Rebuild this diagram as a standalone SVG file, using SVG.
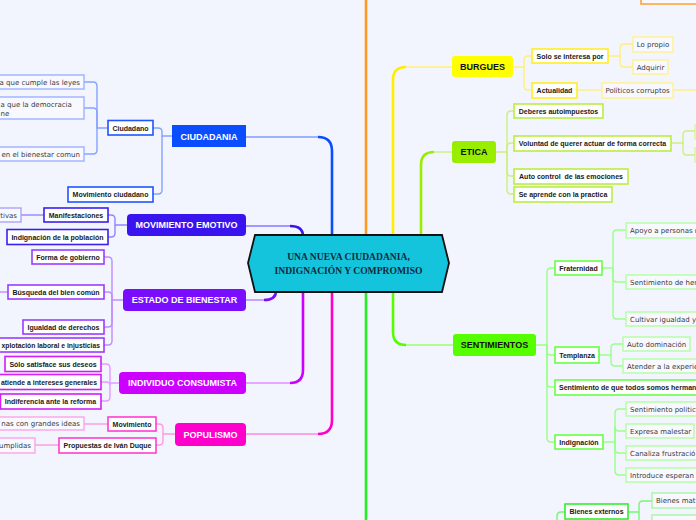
<svg xmlns="http://www.w3.org/2000/svg" width="696" height="520" viewBox="0 0 696 520">
<style>
.m{font:bold 9px "Liberation Sans",Arial,sans-serif;text-anchor:middle}
.w{fill:#fff}
.k{fill:#111}
.b{font:bold 7px "Liberation Sans",Arial,sans-serif;fill:#1a1a1a;text-anchor:middle}
.r{font:7px "DejaVu Sans",Verdana,sans-serif;fill:#3a3a3a}
.b.e,.r.e{text-anchor:end}
.b.s{text-anchor:start}
.r.mid{text-anchor:middle}
.n2{fill:#fff;stroke-width:1.6}
.n3{fill:#f8f9ff;stroke-width:1.4}
.c{fill:none;stroke-width:1.4}
.t{fill:none;stroke-width:2.6}
.cen{font:bold 9.6px "Liberation Serif","Times New Roman",serif;fill:#13293d;text-anchor:middle}
</style>
<rect width="696" height="520" fill="#f2f5fd"/>
<g id="connectors">
<path class="c" stroke="#7f9cff" d="M246,137 H318"/>
<path class="t" stroke="#0a4dff" d="M318,137 Q332,137 332,151 V236"/>
<path class="c" stroke="#8877ff" d="M246,226 H290"/>
<path class="t" stroke="#3a14ee" d="M290,226 Q303,226 303,236"/>
<path class="c" stroke="#b080ff" d="M246,300 H264"/>
<path class="t" stroke="#7a0cff" d="M264,300 Q276,300 276,291"/>
<path class="c" stroke="#e08cff" d="M246,383 H290"/>
<path class="t" stroke="#cc00ff" d="M290,383 Q303,383 303,370 V291"/>
<path class="c" stroke="#ff88dd" d="M246,434 H318"/>
<path class="t" stroke="#ff00cc" d="M318,434 Q332,434 332,420 V291"/>
<path class="t" stroke="#ff9922" d="M366,236 V0"/>
<path class="c" stroke="#fff07a" d="M452,67 H406"/>
<path class="t" stroke="#ffee00" d="M406,67 Q393,67 393,80 V236"/>
<path class="c" stroke="#ccf080" d="M452,152 H434"/>
<path class="t" stroke="#99ee00" d="M434,152 Q421,152 421,165 V236"/>
<path class="c" stroke="#99ff66" d="M453,345 H406"/>
<path class="t" stroke="#55ff00" d="M406,345 Q393,345 393,332 V291"/>
<path class="t" stroke="#22ee22" d="M366,291 V520"/>
<g stroke="#86a2ff" class="c">
<path d="M172,136 H162 V132 Q162,128 158,128 H153"/>
<path d="M162,136 V190 Q162,194 158,194 H153"/>
<path d="M108,128 H97 V86 Q97,82 93,82 H84"/>
<path d="M97,128 V112 Q97,108 93,108 H84"/>
<path d="M97,128 V150 Q97,154 93,154 H84"/>
</g>
<g stroke="#9484ff" class="c">
<path d="M127,225 H115 V219 Q115,215 111,215 H108"/>
<path d="M115,225 V233 Q115,237 111,237 H108"/>
<path d="M44,215 H21"/>
</g>
<g stroke="#c08cff" class="c">
<path d="M123,300 H112 V261 Q112,257 108,257 H104"/>
<path d="M112,300 V296 Q112,292 108,292 H104"/>
<path d="M112,300 V323 Q112,327 108,327 H104"/>
<path d="M112,300 V341 Q112,345 108,345 H104"/>
<path d="M8,292 H0"/>
</g>
<g stroke="#e39cff" class="c">
<path d="M119,383 H110 V368 Q110,364 106,364 H101"/>
<path d="M110,383 V385 Q110,382 106,382 H101"/>
<path d="M110,383 V397 Q110,401 106,401 H101"/>
</g>
<g stroke="#ff99e3" class="c">
<path d="M175,434 H163 V428 Q163,424 159,424 H156"/>
<path d="M163,434 V441 Q163,445 159,445 H156"/>
<path d="M108,424 H84"/>
<path d="M59,445 H35"/>
</g>
<g stroke="#fff07a" class="c">
<path d="M513,67 H524 V60 Q524,56 528,56 H532"/>
<path d="M524,67 V86 Q524,90 528,90 H532"/>
<path d="M608,56 H620 V48 Q620,44 624,44 H633"/>
<path d="M620,56 V63 Q620,67 624,67 H633"/>
<path d="M577,90 H602"/>
<path d="M673,90 H696"/>
</g>
<g stroke="#ccf080" class="c">
<path d="M496,152 H507 V115 Q507,111 511,111 H514"/>
<path d="M507,152 V147 Q507,143 511,143 H514"/>
<path d="M507,152 V172 Q507,176 511,176 H514"/>
<path d="M507,152 V190 Q507,194 511,194 H514"/>
<path d="M671,143 H683 V135 Q683,131 687,131 H695"/>
<path d="M683,143 V151 Q683,155 687,155 H695"/>
</g>
<g stroke="#99ff88" class="c">
<path d="M536,345 H547 V272 Q547,268 551,268 H555"/>
<path d="M547,345 V351 Q547,355 551,355 H555"/>
<path d="M547,345 V383 Q547,387 551,387 H555"/>
<path d="M547,345 V438 Q547,442 551,442 H555"/>
<path d="M602,268 H613 V234 Q613,230 617,230 H626"/>
<path d="M613,268 V278 Q613,282 617,282 H626"/>
<path d="M613,268 V315 Q613,319 617,319 H626"/>
<path d="M599,355 H611 V348 Q611,344 615,344 H623"/>
<path d="M611,355 V362 Q611,366 615,366 H623"/>
<path d="M603,442 H615 V413 Q615,409 619,409 H626"/>
<path d="M615,442 V427 Q615,431 619,431 H626"/>
<path d="M615,442 V449 Q615,453 619,453 H626"/>
<path d="M615,442 V471 Q615,475 619,475 H626"/>
</g>
<g stroke="#77f577" class="c">
<path d="M557,522 V516 Q557,512 561,512 H565"/>
<path d="M628,512 H639 V505 Q639,501 643,501 H652"/>
<path d="M639,512 V522"/>
</g>
</g>

<g id="center">
<polygon points="248,263 255,235 442,235 449,263 442,292 255,292" fill="#14c4dc" stroke="#111" stroke-width="1.8"/>
<text class="cen" x="348.5" y="260">UNA NUEVA CIUDADANIA,</text>
<text class="cen" x="348.5" y="274">INDIGNACIÓN Y COMPROMISO</text>
</g>

<g id="ciudadania">
<rect x="172" y="125" width="74" height="22" fill="#0a4dff"/>
<text class="m w" x="209" y="139.5">CIUDADANIA</text>
</g>
<g id="ciudadano">
<rect class="n2" x="108" y="120.5" width="45" height="14.5" stroke="#1f55ff"/>
<text class="b" x="130.5" y="130.5">Ciudadano</text>
</g>
<g id="movimiento-ciudadano">
<rect class="n2" x="68" y="187" width="85" height="15" stroke="#1f55ff"/>
<text class="b" x="110.5" y="197">Movimiento ciudadano</text>
</g>
<g id="ciu-1">
<rect class="n3" x="-10" y="75" width="94" height="14" stroke="#9db2ff"/>
<text class="r e" x="80" y="84.5">a que cumple las leyes</text>
</g>
<g id="ciu-2">
<rect class="n3" x="-10" y="97" width="94" height="22" stroke="#9db2ff"/>
<text class="r" x="0.5" y="106.5">a que la democracia</text>
<text class="r" x="0.5" y="115.5">ne</text>
</g>
<g id="ciu-3">
<rect class="n3" x="-10" y="147" width="94" height="14" stroke="#9db2ff"/>
<text class="r e" x="80" y="156.5">en el bienestar comun</text>
</g>

<g id="movimiento-emotivo">
<rect x="127" y="214" width="119" height="22" rx="4" fill="#3a14ee"/>
<text class="m w" x="186.5" y="228.2">MOVIMIENTO EMOTIVO</text>
</g>
<g id="manifestaciones">
<rect class="n2" x="44" y="208" width="64" height="14" stroke="#3a20ee"/>
<text class="b" x="76" y="217.5">Manifestaciones</text>
</g>
<g id="indignacion-poblacion">
<rect class="n2" x="7" y="229.5" width="101" height="15" stroke="#3a20ee"/>
<text class="b" x="57.5" y="239.5">Indignación de la población</text>
</g>
<g id="tivas">
<rect class="n3" x="-10" y="208" width="31" height="14" stroke="#aea2f7"/>
<text class="r e" x="17" y="217.5">tivas</text>
</g>

<g id="estado-bienestar">
<rect x="123" y="289" width="123" height="22" rx="4" fill="#7a0cff"/>
<text class="m w" x="184.5" y="303.2">ESTADO DE BIENESTAR</text>
</g>
<g id="forma-gobierno">
<rect class="n2" x="32" y="250" width="72" height="14" stroke="#9a3cff"/>
<text class="b" x="68" y="259.5">Forma de gobierno</text>
</g>
<g id="busqueda">
<rect class="n2" x="8" y="285" width="96" height="14" stroke="#9a3cff"/>
<text class="b" x="56" y="294.5">Búsqueda del bien común</text>
</g>
<g id="igualdad">
<rect class="n2" x="23" y="320" width="81" height="14" stroke="#9a3cff"/>
<text class="b" x="63.5" y="329.5">Igualdad de derechos</text>
</g>
<g id="explotacion">
<rect class="n2" x="-10" y="338" width="114" height="14" stroke="#9a3cff"/>
<text class="b s" x="1.5" y="347.5" textLength="98.5" lengthAdjust="spacingAndGlyphs">xplotación laboral e injusticias</text>
</g>

<g id="individuo-consumista">
<rect x="119" y="372" width="127" height="22" rx="4" fill="#cc00ff"/>
<text class="m w" x="182.5" y="386.2">INDIVIDUO CONSUMISTA</text>
</g>
<g id="solo-satisface">
<rect class="n2" x="5" y="356.5" width="96" height="15" stroke="#d21ef2"/>
<text class="b" x="53" y="366.5">Sólo satisface sus deseos</text>
</g>
<g id="atiende">
<rect class="n2" x="-10" y="374.5" width="111" height="15" stroke="#d21ef2"/>
<text class="b s" x="1" y="384.5" textLength="96" lengthAdjust="spacingAndGlyphs">atiende a intereses generales</text>
</g>
<g id="indiferencia">
<rect class="n2" x="0.5" y="394" width="100.5" height="15" stroke="#d21ef2"/>
<text class="b" x="50.5" y="404">Indiferencia ante la reforma</text>
</g>

<g id="populismo">
<rect x="175" y="423" width="71" height="23" rx="4" fill="#ff00cc"/>
<text class="m w" x="210.5" y="437.7">POPULISMO</text>
</g>
<g id="movimiento">
<rect class="n2" x="108" y="417" width="48" height="14" stroke="#ff3ccf"/>
<text class="b" x="132" y="426.5">Movimiento</text>
</g>
<g id="propuestas">
<rect class="n2" x="59" y="438" width="97" height="15" stroke="#ff3ccf"/>
<text class="b" x="107.5" y="448">Propuestas de Iván Duque</text>
</g>
<g id="grandes-ideas">
<rect class="n3" x="-10" y="417" width="94" height="13" stroke="#ffa3e8"/>
<text class="r e" x="80" y="426">nas con grandes ideas</text>
</g>
<g id="cumplidas">
<rect class="n3" x="-10" y="438" width="45" height="15" stroke="#ffa3e8"/>
<text class="r e" x="31" y="448">umplidas</text>
</g>

<g id="top-orange">
<rect x="641" y="-20" width="70" height="24" fill="#f8f9ff" stroke="#ff9922" stroke-width="1.4"/>
</g>

<g id="burgues">
<rect x="452" y="56" width="61" height="21" rx="3" fill="#ffff00"/>
<text class="m k" x="482.5" y="69.7">BURGUES</text>
</g>
<g id="solo-interesa">
<rect class="n2" x="532" y="49" width="76" height="14" stroke="#ffee22"/>
<text class="b" x="570" y="58.5">Solo se interesa por</text>
</g>
<g id="actualidad">
<rect class="n2" x="532" y="83" width="45" height="15" stroke="#ffee22"/>
<text class="b" x="554.5" y="93">Actualidad</text>
</g>
<g id="lo-propio">
<rect class="n3" x="633" y="37" width="40" height="15" stroke="#fff38a"/>
<text class="r mid" x="653" y="47">Lo propio</text>
</g>
<g id="adquirir">
<rect class="n3" x="633" y="60" width="35" height="14" stroke="#fff38a"/>
<text class="r mid" x="650.5" y="69.5">Adquirir</text>
</g>
<g id="politicos">
<rect class="n3" x="602" y="83" width="71" height="15" stroke="#fff38a"/>
<text class="r mid" x="637.5" y="93">Políticos corruptos</text>
</g>

<g id="etica">
<rect x="452" y="141" width="44" height="22" rx="3" fill="#99ee00"/>
<text class="m k" x="474" y="155.2">ETICA</text>
</g>
<g id="deberes">
<rect class="n2" x="514" y="104" width="89" height="14" stroke="#bbee44"/>
<text class="b" x="558.5" y="113.5">Deberes autoimpuestos</text>
</g>
<g id="voluntad">
<rect class="n2" x="514" y="136" width="157" height="15" stroke="#bbee44"/>
<text class="b" x="592.5" y="146">Voluntad de querer actuar de forma correcta</text>
</g>
<g id="autocontrol">
<rect class="n2" x="514" y="169" width="114" height="15" stroke="#bbee44"/>
<text class="b" x="571" y="179" xml:space="preserve">Auto control  de las emociones</text>
</g>
<g id="se-aprende">
<rect class="n2" x="514" y="187" width="98" height="15" stroke="#bbee44"/>
<text class="b" x="563" y="197">Se aprende con la practica</text>
</g>
<g id="vol-1"><rect class="n3" x="695" y="125" width="20" height="14" stroke="#d6f59a"/></g>
<g id="vol-2"><rect class="n3" x="695" y="148" width="20" height="14" stroke="#d6f59a"/></g>

<g id="sentimientos">
<rect x="453" y="334" width="83" height="22" rx="3" fill="#55ff00"/>
<text class="m k" x="494.5" y="348.2">SENTIMIENTOS</text>
</g>
<g id="fraternidad">
<rect class="n2" x="555" y="261" width="47" height="14" stroke="#66ff44"/>
<text class="b" x="578.5" y="270.5">Fraternidad</text>
</g>
<g id="templanza">
<rect class="n2" x="555" y="347" width="44" height="16" stroke="#66ff44"/>
<text class="b" x="577" y="357.5">Templanza</text>
</g>
<g id="hermanos">
<rect class="n2" x="555" y="380" width="150" height="15" stroke="#66ff44"/>
<text class="b s" x="559" y="390">Sentimiento de que todos somos herman</text>
</g>
<g id="indignacion">
<rect class="n2" x="555" y="435" width="48" height="14" stroke="#66ff44"/>
<text class="b" x="579" y="444.5">Indignación</text>
</g>
<g id="apoyo">
<rect class="n3" x="626" y="223" width="80" height="15" stroke="#b3ffa0"/>
<text class="r" x="630" y="233">Apoyo a personas ma</text>
</g>
<g id="hermandad">
<rect class="n3" x="626" y="275" width="80" height="14" stroke="#b3ffa0"/>
<text class="r" x="630" y="284.5">Sentimiento de herma</text>
</g>
<g id="cultivar">
<rect class="n3" x="626" y="312" width="80" height="14" stroke="#b3ffa0"/>
<text class="r" x="630" y="321.5">Cultivar igualdad y</text>
</g>
<g id="auto-dominacion">
<rect class="n3" x="623" y="337" width="67" height="14" stroke="#b3ffa0"/>
<text class="r" x="627" y="346.5">Auto dominación</text>
</g>
<g id="atender">
<rect class="n3" x="623" y="359" width="80" height="14" stroke="#b3ffa0"/>
<text class="r" x="627" y="368.5">Atender a la experie</text>
</g>
<g id="politico">
<rect class="n3" x="626" y="402" width="80" height="14" stroke="#b3ffa0"/>
<text class="r" x="630" y="411.5">Sentimiento politic</text>
</g>
<g id="malestar">
<rect class="n3" x="626" y="424" width="68" height="14" stroke="#b3ffa0"/>
<text class="r" x="630" y="433.5">Expresa malestar</text>
</g>
<g id="frustracion">
<rect class="n3" x="626" y="446" width="80" height="14" stroke="#b3ffa0"/>
<text class="r" x="630" y="455.5">Canaliza frustració</text>
</g>
<g id="esperanza">
<rect class="n3" x="626" y="468" width="80" height="14" stroke="#b3ffa0"/>
<text class="r" x="630" y="477.5">Introduce esperan</text>
</g>
<g id="bienes-externos">
<rect class="n2" x="565" y="504" width="63" height="15" stroke="#33ee33"/>
<text class="b" x="596.5" y="514">Bienes externos</text>
</g>
<g id="bienes-mat">
<rect class="n3" x="652" y="493" width="60" height="15" stroke="#a8f5a8"/>
<text class="r" x="656" y="503">Bienes mat</text>
</g>
<g id="bienes-2">
<rect class="n3" x="652" y="515" width="60" height="15" stroke="#a8f5a8"/>
</g>
</svg>
